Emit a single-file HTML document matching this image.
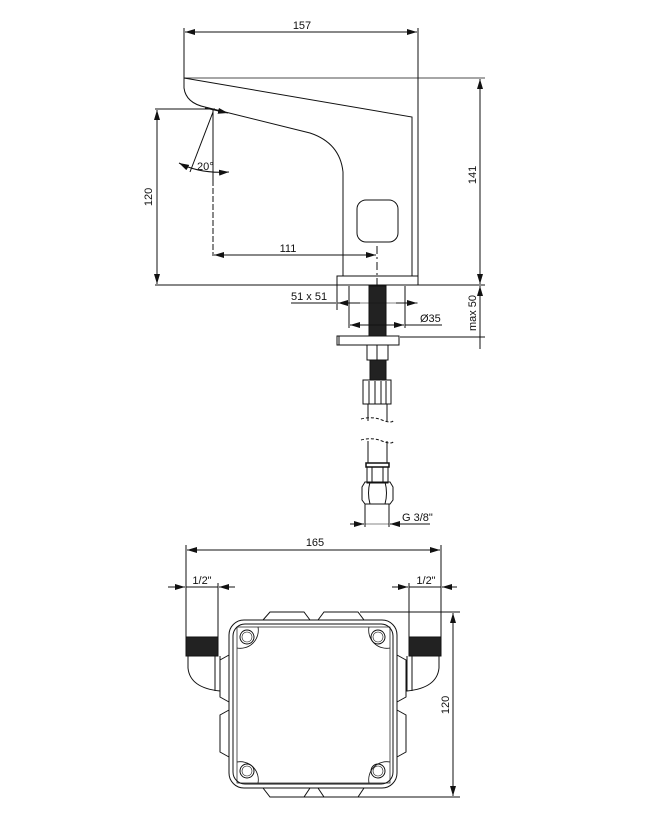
<!DOCTYPE html>
<html><head><meta charset="utf-8"><style>
html,body{margin:0;padding:0;background:#fff;}
svg{display:block;}
text{font-family:"Liberation Sans",sans-serif;font-size:11px;fill:#111;}
</style></head><body>
<svg width="648" height="813" viewBox="0 0 648 813" xmlns="http://www.w3.org/2000/svg">
<defs>
<marker id="a" viewBox="0 0 10 6" refX="10" refY="3" markerWidth="10" markerHeight="6" orient="auto-start-reverse" markerUnits="userSpaceOnUse"><path d="M0,0 L10,3 L0,6 z" fill="#111"/></marker>
</defs>
<g stroke="#111" stroke-width="1" fill="none">
<!-- 157 -->
<line x1="184" y1="28" x2="184" y2="80"/>
<line x1="418" y1="28" x2="418" y2="282"/>
<line x1="185" y1="32" x2="417" y2="32" marker-start="url(#a)" marker-end="url(#a)"/>
<!-- spout -->
<line x1="184" y1="78" x2="485" y2="78" stroke-width="0.8"/>
<path d="M184,78 L412,117 L412,276"/>
<path d="M184,78 L184,88 Q186,103 205,107 L310,133 Q340,143 343,172 L343,276"/>
<rect x="357" y="200" width="41" height="42" rx="9"/>
<!-- base plate -->
<rect x="337" y="276" width="81" height="9"/>
<!-- 120 -->
<line x1="155" y1="109" x2="215" y2="109"/>
<line x1="155" y1="285" x2="485" y2="285"/>
<line x1="157" y1="110" x2="157" y2="284" marker-start="url(#a)" marker-end="url(#a)"/>
<!-- 141 -->
<line x1="480" y1="79" x2="480" y2="284" marker-start="url(#a)" marker-end="url(#a)"/>
<!-- 20 deg -->
<line x1="213" y1="110" x2="213" y2="180"/>
<line x1="213" y1="112" x2="190" y2="172"/>
<path d="M179,163 Q200,174 229,172" marker-start="url(#a)" marker-end="url(#a)"/>
<line x1="205" y1="108" x2="228" y2="113" marker-end="url(#a)"/>
<!-- 111 -->
<line x1="213" y1="180" x2="213" y2="256" stroke-dasharray="6,2"/>
<line x1="214" y1="255" x2="376" y2="255" marker-start="url(#a)" marker-end="url(#a)"/>
<line x1="377" y1="246" x2="377" y2="290" stroke-dasharray="8,3,2,3"/>
<!-- stem -->
<rect x="369" y="286" width="17" height="50" fill="#222"/>
<!-- 51x51 -->
<line x1="337" y1="285" x2="337" y2="310"/>
<line x1="291" y1="303" x2="336" y2="303"/>
<line x1="337" y1="303" x2="418" y2="303" stroke-width="0.6"/>
<line x1="360" y1="303" x2="338" y2="303" marker-end="url(#a)"/>
<line x1="396" y1="303" x2="417" y2="303" marker-end="url(#a)"/>
<!-- Ø35 -->
<line x1="349" y1="286" x2="349" y2="328"/>
<line x1="405" y1="286" x2="405" y2="328"/>
<line x1="350" y1="325" x2="404" y2="325" marker-start="url(#a)" marker-end="url(#a)"/>
<line x1="405" y1="325" x2="442" y2="325"/>
<!-- lower plate -->
<rect x="337" y="336" width="62" height="9"/>
<line x1="339" y1="336" x2="339" y2="345"/>
<line x1="400" y1="337" x2="485" y2="337"/>
<line x1="480" y1="286" x2="480" y2="349" marker-start="url(#a)"/>
<!-- lower fittings -->
<rect x="367" y="345" width="21" height="15"/>
<line x1="377" y1="345" x2="377" y2="360"/>
<rect x="370" y="360" width="16" height="20" fill="#222"/>
<rect x="363" y="380" width="28" height="24"/>
<line x1="369" y1="381" x2="369" y2="404"/><line x1="375" y1="381" x2="375" y2="404"/><line x1="381" y1="381" x2="381" y2="404"/><line x1="386" y1="381" x2="386" y2="404"/>
<line x1="368" y1="404" x2="368" y2="421"/><line x1="387" y1="404" x2="387" y2="421"/>
<path d="M361,419 Q372,416 382,420 T394,420" stroke-dasharray="3,2"/>
<path d="M361,440 Q372,437 382,441 T394,441" stroke-dasharray="3,2"/>
<line x1="368" y1="441" x2="368" y2="463"/><line x1="387" y1="441" x2="387" y2="463"/>
<rect x="366" y="463" width="23" height="4" stroke-width="1.5"/>
<rect x="367" y="467" width="21" height="16"/>
<line x1="372" y1="467" x2="372" y2="483"/><line x1="383" y1="467" x2="383" y2="483"/>
<path d="M365,482 L390,482 L393,487 L393,500 L390,504 L365,504 L362,500 L362,487 Z"/>
<path d="M370,482 Q367,493 370,504 M385,482 Q388,493 385,504"/>
<!-- G3/8 -->
<line x1="365" y1="504" x2="365" y2="527"/>
<line x1="389" y1="504" x2="389" y2="527"/>
<line x1="350" y1="524" x2="364" y2="524" marker-end="url(#a)"/>
<line x1="365" y1="524" x2="389" y2="524" stroke-width="0.6"/>
<line x1="430" y1="524" x2="390" y2="524" marker-end="url(#a)"/>
<!-- 165 -->
<line x1="186" y1="545" x2="186" y2="640"/>
<line x1="441" y1="545" x2="441" y2="640"/>
<line x1="187" y1="550" x2="440" y2="550" marker-start="url(#a)" marker-end="url(#a)"/>
<!-- 1/2 left -->
<line x1="218" y1="583" x2="218" y2="640"/>
<line x1="168" y1="587" x2="185" y2="587" marker-end="url(#a)"/>
<line x1="186" y1="587" x2="218" y2="587"/>
<line x1="235" y1="587" x2="219" y2="587" marker-end="url(#a)"/>
<!-- 1/2 right -->
<line x1="409" y1="583" x2="409" y2="640"/>
<line x1="392" y1="587" x2="408" y2="587" marker-end="url(#a)"/>
<line x1="409" y1="587" x2="441" y2="587"/>
<line x1="457" y1="587" x2="442" y2="587" marker-end="url(#a)"/>
<!-- 120 bottom -->
<line x1="360" y1="612" x2="460" y2="612"/>
<line x1="300" y1="797" x2="460" y2="797"/>
<line x1="453" y1="613" x2="453" y2="796" marker-start="url(#a)" marker-end="url(#a)"/>
<!-- box -->
<path d="M263,620 L270,612 L304,612 L310,620 M318,620 L324,612 L358,612 L364,620"/>
<path d="M263,788 L270,797 L304,797 L310,788 M318,788 L324,797 L358,797 L364,788"/>
<path d="M229,655 L220,660 L220,697 L229,702 M229,710 L220,715 L220,752 L229,757"/>
<path d="M397,655 L406,660 L406,697 L397,702 M397,710 L406,715 L406,752 L397,757"/>
<rect x="229" y="620" width="168" height="168" rx="15"/>
<rect x="233" y="624" width="160" height="160" rx="12"/>
<rect x="237" y="627" width="153" height="156" stroke-width="0.7"/>
<path d="M237,648 A18,18 0 0 0 258,627 M390,648 A18,18 0 0 1 369,627 M237,762 A18,18 0 0 1 258,783 M390,762 A18,18 0 0 0 369,783" stroke-width="0.8"/>
<circle cx="247" cy="637" r="7"/><circle cx="247" cy="637" r="5" stroke-width="0.6"/>
<circle cx="378" cy="637" r="7"/><circle cx="378" cy="637" r="5" stroke-width="0.6"/>
<circle cx="247" cy="771" r="7"/><circle cx="247" cy="771" r="5" stroke-width="0.6"/>
<circle cx="378" cy="771" r="7"/><circle cx="378" cy="771" r="5" stroke-width="0.6"/>
<!-- threads & elbows -->
<rect x="186" y="637" width="32" height="19" fill="#222"/>
<rect x="409" y="637" width="32" height="19" fill="#222"/>
<path d="M188,656 L188,668 Q190,688 220,691 L220,656"/>
<path d="M215,656 L215,691"/>
<path d="M439,656 L439,668 Q437,688 407,691 L407,656"/>
<path d="M412,656 L412,691"/>
</g>
<text x="302" y="29" text-anchor="middle">157</text>
<text x="288" y="252" text-anchor="middle">111</text>
<text x="197" y="170" font-size="10">20°</text>
<text x="291" y="300">51 x 51</text>
<text x="420" y="322">Ø35</text>
<text x="402" y="521">G 3/8"</text>
<text x="315" y="546" text-anchor="middle">165</text>
<text x="202" y="584" text-anchor="middle">1/2"</text>
<text x="426" y="584" text-anchor="middle">1/2"</text>
<text transform="translate(152,197) rotate(-90)" text-anchor="middle">120</text>
<text transform="translate(476,175) rotate(-90)" text-anchor="middle">141</text>
<text transform="translate(476,313) rotate(-90)" text-anchor="middle">max 50</text>
<text transform="translate(449,705) rotate(-90)" text-anchor="middle">120</text>
</svg>
</body></html>
